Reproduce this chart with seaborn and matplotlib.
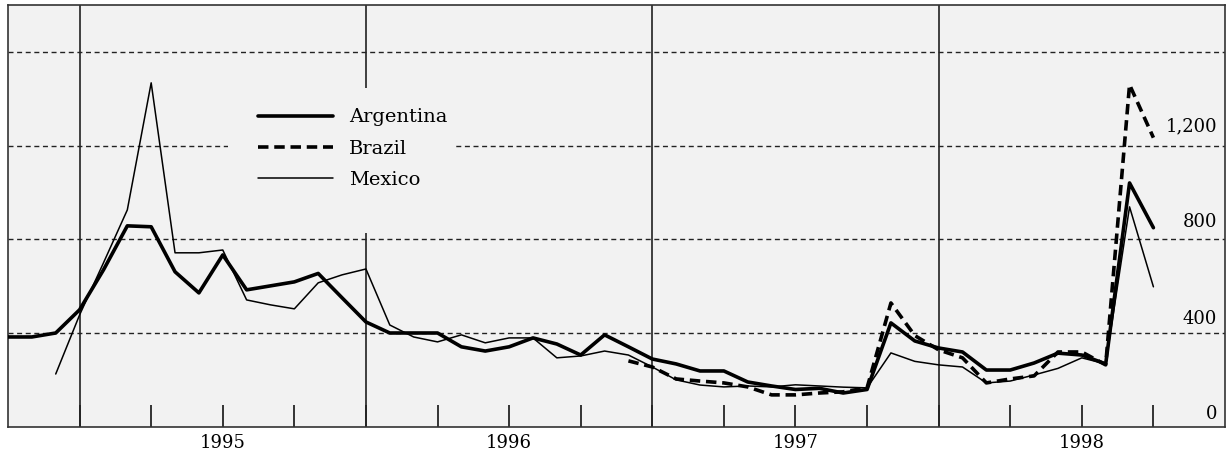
import matplotlib
matplotlib.use("Agg")
import matplotlib.pyplot as plt
import matplotlib.patches as patches
import seaborn as sns
import pandas as pd

sns.set_style("white")
plt.rcParams["font.family"] = "DejaVu Serif"
plt.rcParams["text.color"] = "black"
plt.rcParams["xtick.color"] = "black"

# month index 0 = Oct 1994, monthly through Oct 1998
n_months = 49

argentina_start = 0
argentina = [384, 384, 401, 500, 670, 858, 854, 662, 572, 734, 585, 602,
             619, 655, 551, 448, 401, 401, 401, 342, 324, 342, 380, 354,
             307, 393, 342, 290, 269, 239, 239, 192, 175, 160, 165, 145,
             160, 444, 367, 337, 320, 243, 243, 273, 315, 307, 269, 1041,
             850]

brazil_start = 26
brazil = [282, 256, 205, 196, 188, 171, 137, 137, 145, 150, 167, 529,
          390, 329, 295, 188, 205, 218, 320, 320, 265, 1460, 1234]

mexico_start = 2
mexico = [226, 478, 700, 926, 1468, 743, 743, 755, 542, 521, 504, 615,
          649, 674, 435, 384, 363, 393, 359, 380, 380, 295, 303, 324,
          307, 256, 201, 179, 171, 175, 171, 180, 175, 170, 167, 316,
          280, 265, 256, 188, 196, 222, 250, 295, 269, 939, 598]

years = ["1995", "1996", "1997", "1998"]
year_starts = [3, 15, 27, 39]
y_levels = [400, 800, 1200, 1600]
y_labels = ["0", "400", "800", "1,200"]
y_label_vals = [0, 400, 800, 1200]

bg = "#f2f2f2"


def series_df(name, start, values):
    return pd.DataFrame({"month": range(start, start + len(values)),
                         "value": values, "country": name})


fig = plt.figure(figsize=(12.3, 4.57), dpi=100)
fig.patch.set_facecolor("white")
ax = fig.add_axes([8 / 1230, 30 / 457, 1217 / 1230, 422 / 457])
ax.set_facecolor(bg)

# grid and year separators
for v in y_levels:
    ax.axhline(v, color="#222222", lw=1.0, ls=(0, (3.6, 2.6)), zorder=1)
for m in year_starts:
    ax.axvline(m, color="#222222", lw=1.2, zorder=1)

# blank box behind the legend
ax.add_patch(patches.Rectangle((0.1808, 0.4597), 0.1873, 0.3436,
                               transform=ax.transAxes, facecolor=bg,
                               edgecolor="none", zorder=3))

sns.lineplot(data=series_df("Argentina", argentina_start, argentina),
             x="month", y="value", ax=ax, color="black", linewidth=2.6,
             label="Argentina", zorder=5)
sns.lineplot(data=series_df("Brazil", brazil_start, brazil),
             x="month", y="value", ax=ax, color="black", linewidth=2.6,
             linestyle=(0, (2.9, 1.6)), label="Brazil", zorder=5)
sns.lineplot(data=series_df("Mexico", mexico_start, mexico),
             x="month", y="value", ax=ax, color="black", linewidth=1.1,
             label="Mexico", zorder=5)

ax.set_xlim(0, 51)
ax.set_ylim(0, 1800)
ax.set_xlabel("")
ax.set_ylabel("")

# quarterly ticks, year labels centred mid-year
quarter_ticks = list(range(3, n_months, 3))
mid_year = {m + 6: y for m, y in zip(year_starts, years)}
ax.set_xticks(quarter_ticks)
ax.set_xticklabels([mid_year.get(t, "") for t in quarter_ticks], fontsize=13)
ax.tick_params(axis="x", which="major", direction="in", length=16,
               width=1.1, color="black", bottom=True, pad=5)
ax.set_yticks([])

offsets = [6, 7, 9, 10]
for v, lab, off in zip(y_label_vals, y_labels, offsets):
    ax.annotate(lab, xy=(0.9934, v), xycoords=ax.get_yaxis_transform(),
                xytext=(0, off), textcoords="offset points",
                ha="right", va="baseline", fontsize=13)

for s in ax.spines.values():
    s.set_color("#333333")
    s.set_linewidth(1.2)

ax.legend(loc="upper left", bbox_to_anchor=(0.2054, 0.755), frameon=False,
          fontsize=14, handlelength=3.86, handletextpad=0.82,
          labelspacing=0.68, borderpad=0, borderaxespad=0)

fig.savefig("out.png", dpi=100)
